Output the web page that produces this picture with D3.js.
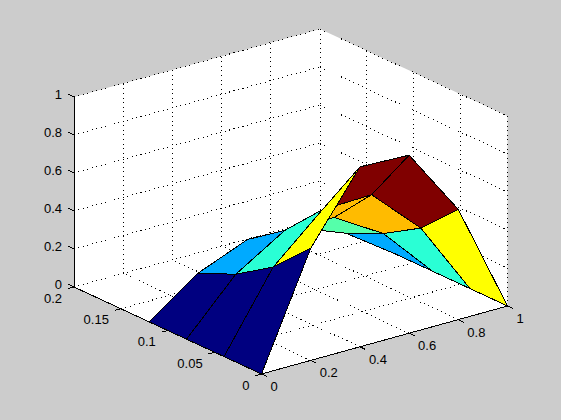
<!DOCTYPE html>
<html><head><meta charset="utf-8">
<style>html,body{margin:0;padding:0;background:#ccc}svg{display:block}text{font-family:"Liberation Sans",Arial,sans-serif;font-size:13px;fill:#000}</style>
<script src="https://cdn.jsdelivr.net/npm/d3@7"></script></head><body><svg id="c" width="561" height="420"></svg>
<script>
const xValues=[0,0.2,0.4,0.6,0.8,1];
const yValues=[0,0.04,0.08,0.12];
const zRow0=[0,0.59,0.947,0.937,0.58,0];
const zRow1=[0,0.40,0.63,0.637,0.39,0];
const zRow2=[0,0.27,0.43,0.426,0.27,0];
const zRow3=[0,0.185,0.29,0.28,0.18,0];
const zRows=[zRow0,zRow1,zRow2,zRow3];
const palette=["#000080","#00AAFF","#2AFFD5","#55FFAA","#FFFF00","#FFBB00","#800000"];
const faceColorsRow0=[0,4,6,6,4];
const faceColorsRow1=[0,2,5,5,2];
const faceColorsRow2=[0,1,2,3,1];
const faceColors=[faceColorsRow0,faceColorsRow1,faceColorsRow2];
const xTicks=[0,0.2,0.4,0.6,0.8,1];
const yTicks=[0,0.05,0.1,0.15,0.2];
const zTicks=[0,0.2,0.4,0.6,0.8,1];
const xTickLabels=["0","0.2","0.4","0.6","0.8","1"];
const yTickLabels=["0","0.05","0.1","0.15","0.2"];
const zTickLabels=["0","0.2","0.4","0.6","0.8","1"];

const sx=d3.scaleLinear().domain([0,1]).range([0,1]);
const sy=d3.scaleLinear().domain([0,0.2]).range([0,1]);
const sz=d3.scaleLinear().domain([0,1]).range([0,190]);
const O=[261.5,374],XV=[246,-68],YV=[-187.5,-87];
function P(x,y,z){const a=sx(x),b=sy(y);return [O[0]+a*XV[0]+b*YV[0],O[1]+a*XV[1]+b*YV[1]-sz(z)];}
const svg=d3.select("#c");
svg.append("rect").attr("width",561).attr("height",420).attr("fill","#cccccc");
const line=d3.line();
const xM=1,yM=0.2,zM=1;
// walls
svg.append("path").attr("fill","#fff").attr("d",line([P(0,yM,zM),P(xM,yM,zM),P(xM,0,zM),P(xM,0,0),P(0,0,0),P(0,yM,0)])+"Z");
const grid=svg.append("g").attr("fill","none").attr("stroke","#000").attr("stroke-width",1).attr("stroke-dasharray","1 3.6").attr("shape-rendering","crispEdges");
function seg(g,a,b){g.append("path").attr("d",line([a,b]));}
xTicks.forEach(x=>{seg(grid,P(x,yM,0),P(x,yM,zM));seg(grid,P(x,0,0),P(x,yM,0));});
yTicks.forEach(y=>{seg(grid,P(xM,y,0),P(xM,y,zM));seg(grid,P(0,y,0),P(xM,y,0));});
zTicks.forEach(z=>{seg(grid,P(0,yM,z),P(xM,yM,z));seg(grid,P(xM,yM,z),P(xM,0,z));});
// surface
const faces=[];
faceColors.forEach((row,j)=>row.forEach((c,i)=>{
  faces.push({pts:[P(xValues[i],yValues[j],zRows[j][i]),P(xValues[i+1],yValues[j],zRows[j][i+1]),P(xValues[i+1],yValues[j+1],zRows[j+1][i+1]),P(xValues[i],yValues[j+1],zRows[j+1][i])],color:palette[c],depth:sx(xValues[i])*1+sy(yValues[j])*0.8});
}));
faces.sort((a,b)=>b.depth-a.depth);
svg.append("g").selectAll("path").data(faces).join("path").attr("d",d=>line(d.pts)+"Z").attr("fill",d=>d.color).attr("stroke","#000").attr("stroke-width",1).attr("stroke-linejoin","round").attr("shape-rendering","crispEdges");
// axes
const ax=svg.append("g").attr("fill","none").attr("stroke","#000").attr("stroke-width",1).attr("shape-rendering","crispEdges");
seg(ax,P(0,0,0),P(xM,0,0));seg(ax,P(0,0,0),P(0,yM,0));seg(ax,P(0,yM,0),P(0,yM,zM));
xTicks.forEach(x=>{const p=P(x,0,0);seg(ax,p,[p[0]+5.5,p[1]+2.6]);});
yTicks.forEach(y=>{const p=P(0,y,0);seg(ax,p,[p[0]-6.2,p[1]+1.7]);});
zTicks.forEach(z=>{const p=P(0,yM,z);seg(ax,p,[p[0]-5.8,p[1]-2.7]);});
// labels
const lab=svg.append("g");
xTicks.forEach((x,i)=>{const p=P(x,0,0);lab.append("text").attr("x",p[0]+9).attr("y",p[1]+17).attr("text-anchor","start").text(xTickLabels[i]);});
yTicks.forEach((y,i)=>{const p=P(0,y,0);lab.append("text").attr("x",p[0]-12).attr("y",p[1]+15.5).attr("text-anchor","end").text(yTickLabels[i]);});
zTicks.forEach((z,i)=>{const p=P(0,yM,z);lab.append("text").attr("x",p[0]-12).attr("y",p[1]+1.5).attr("text-anchor","end").text(zTickLabels[i]);});
</script></body></html>
